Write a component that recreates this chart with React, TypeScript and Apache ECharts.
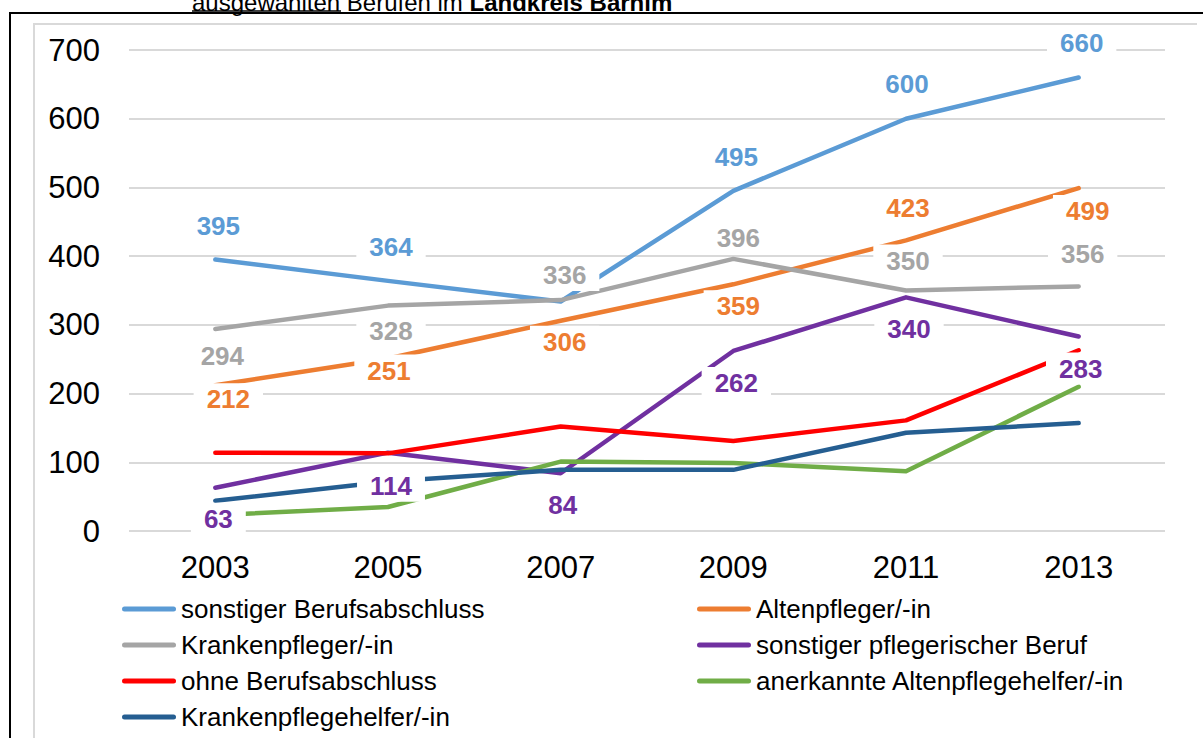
import React, { useEffect, useRef } from "react";
import * as echarts from "echarts";

const years = ["2003", "2005", "2007", "2009", "2011", "2013"];
const yTicks = [0, 100, 200, 300, 400, 500, 600, 700];

const seriesNames = [
  "sonstiger Berufsabschluss",
  "Altenpfleger/-in",
  "Krankenpfleger/-in",
  "sonstiger pflegerischer Beruf",
  "ohne Berufsabschluss",
  "anerkannte Altenpflegehelfer/-in",
  "Krankenpflegehelfer/-in",
];

const sonstigerBerufsabschluss = [395, 364, 334, 495, 600, 660];
const altenpfleger = [212, 251, 306, 359, 423, 499];
const krankenpfleger = [294, 328, 336, 396, 350, 356];
const sonstigerPflegerisch = [63, 114, 84, 262, 340, 283];
const ohneBerufsabschluss = [114, 113, 152, 131, 161, 263];
const altenpflegehelfer = [23, 35, 101, 99, 87, 210];
const krankenpflegehelfer = [44, 72, 89, 89, 143, 157];

const seriesValues = [
  sonstigerBerufsabschluss,
  altenpfleger,
  krankenpfleger,
  sonstigerPflegerisch,
  ohneBerufsabschluss,
  altenpflegehelfer,
  krankenpflegehelfer,
];

const colors = ["#5B9BD5", "#ED7D31", "#A5A5A5", "#7030A0", "#FF0000", "#70AD47", "#255E91"];

// label placement (style): [dx, dy] relative to the data point, null = hidden
const labelOffsets: Record<number, ([number, number] | null)[]> = {
  0: [[3, -34], [3, -34], null, [3, -34], [1, -35], [3, -34]],
  1: [[13, 14], [1, 12], [4, 21], [5, 22], [2, -32], [9, 23]],
  2: [[7, 27], [3, 25], [4, -25], [5, -21], [2, -30], [4, -32]],
  3: [[3, 31], [3, 33], [2, 32], [3, 32], [3, 32], [2, 32]],
};

const FONT = "'Liberation Sans', Arial, sans-serif";
const CAPSULE = "path://M2.5,0L51.5,0A2.5,2.5,0,0,1,51.5,5L2.5,5A2.5,2.5,0,0,1,2.5,0Z";

export default function App() {
  const ref = useRef<HTMLDivElement>(null);
  useEffect(() => {
    if (!ref.current) return;
    const chart = echarts.init(ref.current, null, { renderer: "svg" });

    const lineSeries = seriesNames.map((name, i) => ({
      name,
      type: "line",
      data: seriesValues[i],
      color: colors[i],
      symbol: "none",
      showSymbol: false,
      z: 2,
      lineStyle: { width: 4.5, color: colors[i], cap: "round", join: "round" },
      emphasis: { disabled: true },
    }));

    const labelSeries = Object.keys(labelOffsets).map((k) => {
      const i = Number(k);
      const offs = labelOffsets[i];
      return {
        name: "lbl" + i,
        type: "scatter",
        z: 10,
        symbolSize: 1,
        itemStyle: { color: "rgba(0,0,0,0)", opacity: 1 },
        emphasis: { disabled: true },
        data: seriesValues[i].map((v, j) => {
          const o = offs[j];
          return {
            value: v,
            label: o
              ? {
                  show: true,
                  position: "inside",
                  offset: o,
                  formatter: String(v),
                  color: colors[i],
                  opacity: 1,
                  fontSize: 26,
                  fontWeight: "bold",
                  fontFamily: FONT,
                  backgroundColor: "#ffffff",
                  padding: [3, 13],
                }
              : { show: false },
          };
        }),
      };
    });

    const legendCommon = {
      orient: "vertical",
      itemWidth: 54,
      itemHeight: 5,
      itemGap: 10,
      height: 200,
      icon: CAPSULE,
      selectedMode: false,
      textStyle: { fontSize: 26, fontFamily: FONT, color: "#000", lineHeight: 26 },
    };

    chart.setOption({
      animation: false,
      backgroundColor: "#ffffff",
      textStyle: { fontFamily: FONT },
      grid: { left: 129, right: 38, top: 50, bottom: 207, containLabel: false },
      xAxis: {
        type: "category",
        data: years,
        boundaryGap: true,
        axisLine: { show: false },
        axisTick: { show: false },
        axisLabel: { fontSize: 31, color: "#000", margin: 21, fontFamily: FONT },
      },
      yAxis: {
        type: "value",
        min: yTicks[0],
        max: yTicks[yTicks.length - 1],
        interval: 100,
        axisLine: { show: false },
        axisTick: { show: false },
        axisLabel: { fontSize: 31, color: "#000", margin: 29, fontFamily: FONT },
        splitLine: { lineStyle: { color: "#D9D9D9", width: 2 } },
      },
      legend: [
        { ...legendCommon, left: 117, top: 591, data: [seriesNames[0], seriesNames[2], seriesNames[4], seriesNames[6]] },
        { ...legendCommon, left: 692, top: 591, data: [seriesNames[1], seriesNames[3], seriesNames[5]] },
      ],
      graphic: [
        {
          type: "polyline",
          silent: true,
          shape: { points: [[34, 800], [34, 24], [1197, 24]] },
          style: { stroke: "#D9D9D9", lineWidth: 2, fill: "none" },
          z: 0,
        },
        {
          type: "rect",
          silent: true,
          shape: { x: 10, y: 13, width: 1400, height: 900 },
          style: { stroke: "#000", lineWidth: 2, fill: "none" },
          z: 0,
        },
        {
          type: "text",
          silent: true,
          x: 192,
          y: 14,
          style: {
            text: "{n|ausgewählten Berufen im }{b|Landkreis Barnim}",
            verticalAlign: "bottom",
            rich: {
              n: { fontSize: 24, fontFamily: FONT, fill: "#000" },
              b: { fontSize: 24, fontFamily: FONT, fontWeight: "bold", fill: "#000" },
            },
          },
        },
        {
          type: "line",
          silent: true,
          shape: { x1: 192, y1: 11, x2: 341, y2: 11 },
          style: { stroke: "#000", lineWidth: 1.5 },
        },
      ],
      series: [...lineSeries, ...labelSeries],
    });
    return () => chart.dispose();
  }, []);
  return (
    <div
      ref={ref}
      style={{ position: "absolute", left: 0, top: 0, width: 1203, height: 738 }}
    />
  );
}
